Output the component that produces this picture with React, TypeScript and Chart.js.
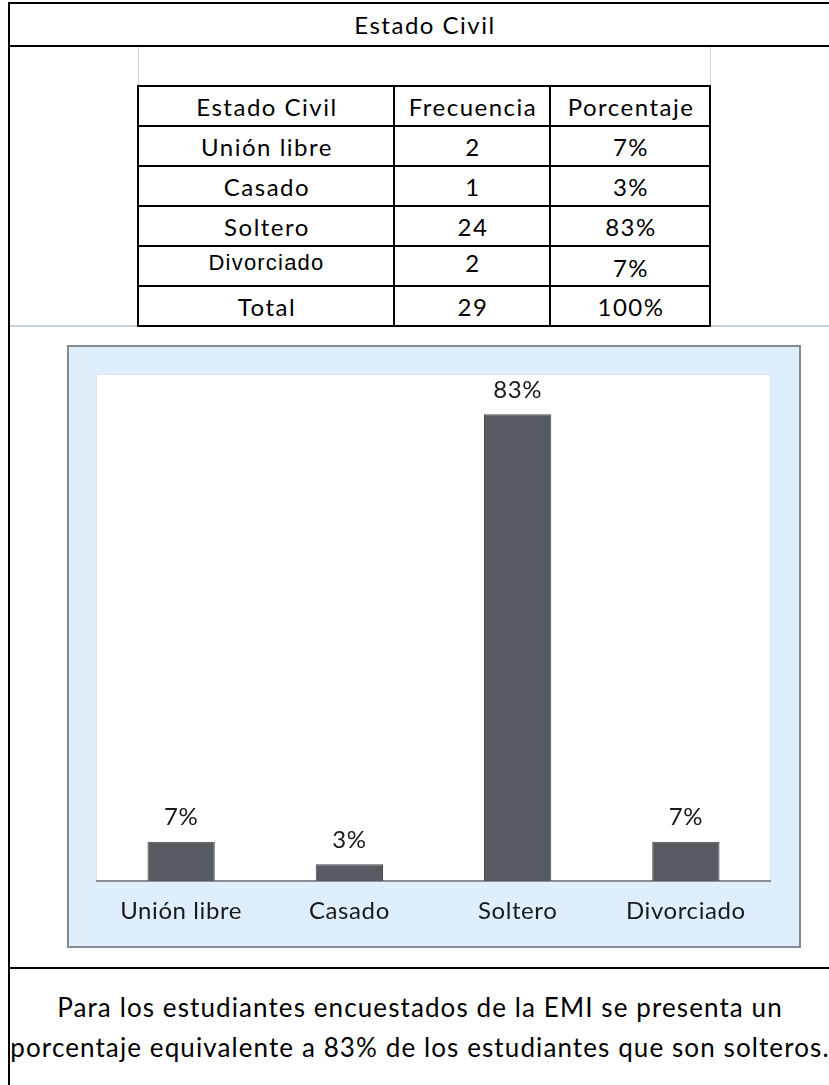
import React, { useEffect, useRef } from 'react';
import { Chart, registerables } from 'chart.js';

Chart.register(...registerables);

const titulo = 'Estado Civil';
const encabezados = ['Estado Civil', 'Frecuencia', 'Porcentaje'];
const categorias = ['Unión libre', 'Casado', 'Soltero', 'Divorciado'];
const frecuencias = [2, 1, 24, 2];
const porcentajes = [7, 3, 83, 7];
const totalEtiqueta = 'Total';
const totalFrecuencia = 29;
const totalPorcentaje = 100;
const conclusion = [
  'Para los estudiantes encuestados de la EMI se presenta un',
  'porcentaje equivalente a 83% de los estudiantes que son solteros.',
];
const yMax = 90;

const FONT = 'Lato';
const rowY = [86, 126, 166, 206, 246, 286, 326];
const colX = [137, 393, 549, 709];

function Line({ x, y, w, h, c }: { x: number; y: number; w: number; h: number; c: string }) {
  return <div style={{ position: 'absolute', left: x, top: y, width: w, height: h, background: c }} />;
}

export default function App() {
  const ref = useRef<HTMLCanvasElement>(null);

  useEffect(() => {
    const canvas = ref.current!;
    const bgPlugin = {
      id: 'plotBg',
      beforeDraw(chart: any) {
        const { ctx, chartArea: a } = chart;
        ctx.save();
        ctx.fillStyle = '#ffffff';
        ctx.fillRect(a.left, a.top, a.right - a.left, a.bottom - a.top);
        ctx.strokeStyle = '#d3e3f3';
        ctx.lineWidth = 1;
        ctx.strokeRect(a.left - 0.5, a.top - 0.5, a.right - a.left + 1, a.bottom - a.top + 1);
        ctx.restore();
        (ctx as any).letterSpacing = '0.6px';
      },
    };
    const labelPlugin = {
      id: 'valueLabels',
      afterDatasetsDraw(chart: any) {
        const ctx = chart.ctx;
        const meta = chart.getDatasetMeta(0);
        ctx.save();
        ctx.font = `24px ${FONT}`;
        ctx.fillStyle = '#1a1a1a';
        ctx.textAlign = 'center';
        ctx.textBaseline = 'middle';
        meta.data.forEach((el: any, i: number) => {
          ctx.fillText(porcentajes[i] + '%', el.x, el.y - 24);
        });
        ctx.restore();
      },
    };
    const chart = new Chart(canvas, {
      type: 'bar',
      data: {
        labels: categorias,
        datasets: [
          {
            data: porcentajes,
            backgroundColor: '#555b60',
            borderColor: '#45494d',
            borderWidth: 1,
            barPercentage: 0.4,
            categoryPercentage: 1,
          },
        ],
      },
      options: {
        animation: false,
        responsive: false,
        devicePixelRatio: 1,
        layout: { padding: { left: 28, right: 29, top: 28, bottom: 0 } },
        plugins: { legend: { display: false }, tooltip: { enabled: false } },
        scales: {
          x: {
            grid: { display: false, drawTicks: false },
            border: { display: true, color: '#8a8f94', width: 2 },
            ticks: { padding: 16, color: '#1a1a1a', font: { family: FONT, size: 24 } },
            afterFit: (s: any) => {
              s.height = 65;
            },
          },
          y: { display: false, min: 0, max: yMax },
        },
      },
      plugins: [bgPlugin, labelPlugin],
    } as any);
    return () => chart.destroy();
  }, []);

  const rows: (string | number)[][] = [
    encabezados,
    ...categorias.map((c, i) => [c, frecuencias[i], porcentajes[i] + '%']),
    [totalEtiqueta, totalFrecuencia, totalPorcentaje + '%'],
  ];

  const cellText = { fontFamily: FONT, fontSize: 24, letterSpacing: '1.5px', color: '#000' };

  return (
    <div
      style={{
        position: 'absolute',
        left: 0,
        top: 0,
        width: 829,
        height: 1085,
        overflow: 'hidden',
        background: '#fff',
        fontFamily: FONT,
      }}
    >
      {/* outer frame */}
      <Line x={8} y={2} w={821} h={2} c="#000" />
      <Line x={8} y={2} w={2} h={1083} c="#000" />
      <Line x={8} y={45} w={821} h={2} c="#000" />
      <Line x={8} y={967} w={821} h={2} c="#000" />

      {/* title */}
      <div
        style={{
          position: 'absolute',
          left: 138,
          top: 4,
          width: 572,
          height: 41,
          lineHeight: '41px',
          textAlign: 'center',
          paddingLeft: 2,
          boxSizing: 'border-box',
          ...cellText,
        }}
      >
        {titulo}
      </div>

      {/* light cell borders */}
      <Line x={138} y={47} w={1} h={40} c="#c8d5e2" />
      <Line x={710} y={47} w={1} h={40} c="#c8d5e2" />
      <Line x={10} y={325} w={819} h={2} c="#c6d3df" />

      {/* table grid */}
      {rowY.map((y, i) => (
        <Line key={'h' + i} x={colX[0]} y={y - 1} w={colX[3] - colX[0] + 2} h={2} c="#000" />
      ))}
      {colX.map((x, i) => (
        <Line key={'v' + i} x={x} y={rowY[0] - 1} w={2} h={rowY[6] - rowY[0] + 2} c="#000" />
      ))}

      {/* table text */}
      {rows.map((r, j) =>
        r.map((t, i) => {
          const isDiv = r[0] === 'Divorciado';
          return (
            <div
              key={j + '-' + i}
              style={{
                position: 'absolute',
                left: colX[i] + 2,
                top: rowY[j] + (isDiv ? -3 : 1) + (isDiv && i === 2 ? 5 : 0),
                width: colX[i + 1] - colX[i] - 2,
                height: 40,
                lineHeight: '40px',
                textAlign: 'center',
                whiteSpace: 'nowrap',
                boxSizing: 'border-box',
                ...cellText,
                paddingLeft: 2,
                ...(isDiv && i === 0
                  ? { fontFamily: 'Liberation Sans', fontSize: 22, letterSpacing: '1.2px', paddingLeft: 1 }
                  : {}),
              }}
            >
              {t}
            </div>
          );
        })
      )}

      {/* chart box */}
      <div
        style={{
          position: 'absolute',
          left: 67,
          top: 345,
          width: 734,
          height: 603,
          boxSizing: 'border-box',
          border: '2px solid #858a90',
          background: '#dfeefc',
        }}
      >
        <canvas ref={ref} width={730} height={599} style={{ display: 'block', width: 730, height: 599 }} />
      </div>

      {/* conclusion */}
      {conclusion.map((t, i) => (
        <div
          key={'c' + i}
          style={{
            position: 'absolute',
            left: 0,
            top: 987 + i * 40,
            width: 840,
            height: 40,
            lineHeight: '40px',
            textAlign: 'center',
            whiteSpace: 'nowrap',
            fontFamily: FONT,
            fontSize: 26,
            letterSpacing: '1.1px',
            color: '#000',
          }}
        >
          {t}
        </div>
      ))}
    </div>
  );
}
